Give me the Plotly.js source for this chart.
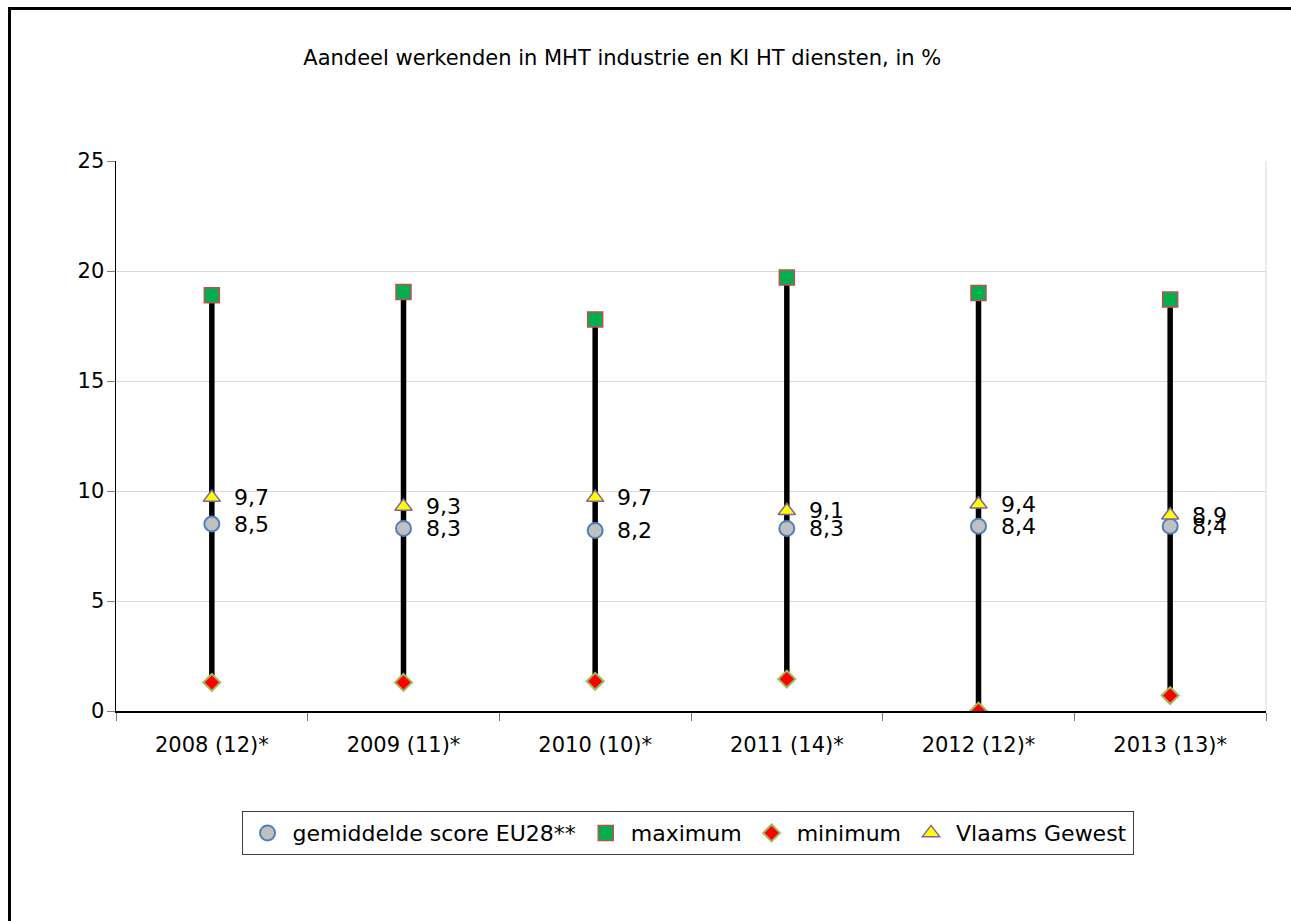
<!DOCTYPE html>
<html>
<head>
<meta charset="utf-8">
<script src="https://cdn.plot.ly/plotly-3.0.1.min.js"></script>
<style>
  html, body { margin: 0; padding: 0; background: #fff; }
  #wrap { position: relative; width: 1291px; height: 921px; overflow: hidden; }
  #chart { position: absolute; left: 0; top: 0; width: 1291px; height: 921px; }
  #frame { position: absolute; left: 8px; top: 7px; width: 1400px; height: 1000px;
           border-left: 3px solid #000; border-top: 3px solid #000; pointer-events: none; }
</style>
</head>
<body>
<div id="wrap">
  <div id="chart"></div>
  <div id="frame"></div>
</div>
<script>
const categories = ['2008 (12)*', '2009 (11)*', '2010 (10)*', '2011 (14)*', '2012 (12)*', '2013 (13)*'];
const avgEU28   = [8.5, 8.3, 8.2, 8.3, 8.4, 8.4];
const maximum   = [18.9, 19.05, 17.8, 19.7, 19.0, 18.7];
const minimum   = [1.3, 1.3, 1.35, 1.45, 0.0, 0.7];
const vlaams    = [9.7, 9.3, 9.7, 9.1, 9.4, 8.9];

const fmt = v => v.toFixed(1).replace('.', ',');
const FONT = 'Tahoma, "DejaVu Sans", Verdana, sans-serif';

// vertical range lines built from min/max arrays
const lx = [], ly = [];
categories.forEach((c, i) => { lx.push(c, c, null); ly.push(minimum[i], maximum[i], null); });

const traces = [
  { type: 'scatter', mode: 'lines', x: lx, y: ly, showlegend: false, hoverinfo: 'skip',
    line: { color: '#000', width: 5.5 } },
  { type: 'scatter', mode: 'markers', name: 'gemiddelde score EU28**', x: categories, y: avgEU28,
    marker: { symbol: 'circle', size: 15, color: '#C0C0C0', line: { color: '#4F81BD', width: 2 } } },
  { type: 'scatter', mode: 'markers', name: 'maximum', x: categories, y: maximum,
    marker: { symbol: 'square', size: 15, color: '#00B050', line: { color: '#C0504D', width: 1.5 } } },
  { type: 'scatter', mode: 'markers', name: 'minimum', x: categories, y: minimum,
    marker: { symbol: 'diamond', size: 13, color: '#FF0000', line: { color: '#9BBB59', width: 2 } } },
  { type: 'scatter', mode: 'markers', name: 'Vlaams Gewest', x: categories, y: vlaams,
    marker: { symbol: 'triangle-up', size: 15, color: '#FFFF00', line: { color: '#8064A2', width: 1.5 } } }
];

const labelFont = { family: FONT, size: 22, color: '#000' };
const annotations = [];
categories.forEach((c, i) => {
  annotations.push({ x: c, y: vlaams[i], xref: 'x', yref: 'y', text: fmt(vlaams[i]), showarrow: false,
                     xanchor: 'left', yanchor: 'middle', xshift: 20, font: labelFont });
  annotations.push({ x: c, y: avgEU28[i], xref: 'x', yref: 'y', text: fmt(avgEU28[i]), showarrow: false,
                     xanchor: 'left', yanchor: 'middle', xshift: 20, font: labelFont });
});

const layout = {
  width: 1291, height: 921,
  margin: { l: 116, r: 25, t: 161, b: 210 },
  paper_bgcolor: '#fff', plot_bgcolor: '#fff',
  font: { family: FONT, color: '#000' },
  title: { text: 'Aandeel werkenden in MHT industrie en KI HT diensten, in %',
           font: { family: FONT, size: 21, color: '#000' },
           xref: 'container', yref: 'container', x: 0.482, xanchor: 'center', y: 0.937, yanchor: 'middle' },
  xaxis: { type: 'category', tickson: 'boundaries', ticks: 'outside', ticklen: 8, tickcolor: '#808080',
           showline: true, linecolor: '#000', linewidth: 1.5, showgrid: false, zeroline: false,
           tickfont: { family: FONT, size: 21, color: '#000' }, range: [-0.5, 5.5], fixedrange: true,
           ticklabelstandoff: 14 },
  yaxis: { range: [0, 25], tickvals: [0, 5, 10, 15, 20, 25], ticks: 'outside', ticklen: 8, tickcolor: '#808080',
           showline: true, linecolor: '#000', linewidth: 1.5, showgrid: true, gridcolor: '#D9D9D9',
           zeroline: false, tickfont: { family: FONT, size: 21, color: '#000' }, ticklabelstandoff: -2 },
  shapes: [
    { type: 'line', xref: 'paper', yref: 'paper', x0: 1, x1: 1, y0: 0, y1: 1, line: { color: '#D9D9D9', width: 1 } }
  ],
  annotations: annotations,
  legend: { orientation: 'h', x: 0.497, xanchor: 'center', y: -0.222, yanchor: 'middle',
            bordercolor: '#404040', borderwidth: 1, bgcolor: '#fff',
            font: { family: FONT, size: 22, color: '#000' }, itemwidth: 40 },
  showlegend: true
};

Plotly.newPlot('chart', traces, layout, { displayModeBar: false, staticPlot: true });
</script>
</body>
</html>
